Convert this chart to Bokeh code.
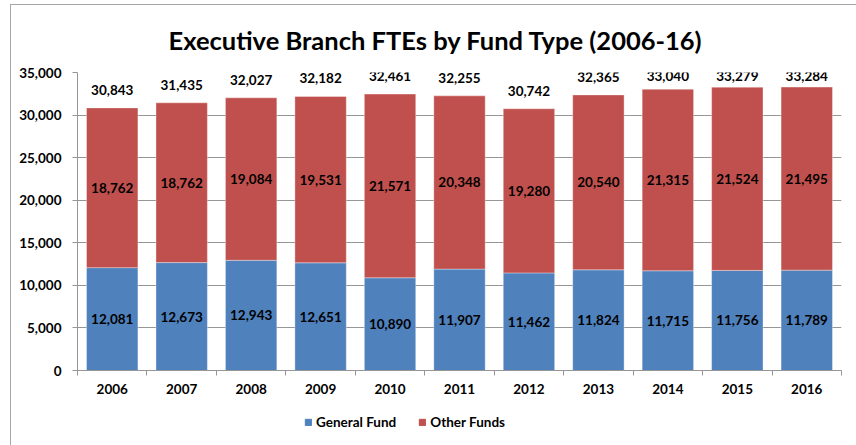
from bokeh.plotting import figure
from bokeh.layouts import column
from bokeh.models import (ColumnDataSource, Range1d, FixedTicker, SingleIntervalTicker,
                          NumeralTickFormatter, Legend, LegendItem)
from bokeh.core.properties import value
from bokeh.embed import file_html
from bokeh.resources import INLINE

years = ["2006", "2007", "2008", "2009", "2010", "2011", "2012", "2013", "2014", "2015", "2016"]
general_fund = [12081, 12673, 12943, 12651, 10890, 11907, 11462, 11824, 11715, 11756, 11789]
other_funds = [18762, 18762, 19084, 19531, 21571, 20348, 19280, 20540, 21315, 21524, 21495]
totals = [30843, 31435, 32027, 32182, 32461, 32255, 30742, 32365, 33040, 33279, 33284]
series_names = ["General Fund", "Other Funds"]

BLUE = "#4f81bd"
RED = "#c0504d"
GRAY = "#969696"
FONT = value("Lato")
Y_MAX = 35000

n = len(years)
idx = list(range(n))
fmt = lambda v: f"{v:,}"
source = ColumnDataSource(dict(
    x=idx,
    general=general_fund,
    other=other_funds,
    gen_mid=[g / 2 for g in general_fund],
    oth_mid=[g + o / 2 for g, o in zip(general_fund, other_funds)],
    tot_y=[min(t, 32430) for t in totals],
    gen_lbl=[fmt(v) for v in general_fund],
    oth_lbl=[fmt(v) for v in other_funds],
    tot_lbl=[fmt(v) for v in totals],
))

p = figure(x_range=Range1d(-0.5, n - 0.5), y_range=Range1d(0, Y_MAX),
           width=845, height=400, output_backend="svg", toolbar_location=None,
           min_border_left=66, min_border_right=15, min_border_top=65, min_border_bottom=35)
p.outline_line_color = None
p.background_fill_color = "white"
p.border_fill_color = "white"

renderers = p.vbar_stack(["general", "other"], x="x", width=0.74, color=[BLUE, RED],
                         line_color="white", line_alpha=0.35, line_width=1, source=source)

# y axis
p.yaxis.ticker = SingleIntervalTicker(interval=5000)
p.yaxis.formatter = NumeralTickFormatter(format="0,0")
p.yaxis.axis_line_color = GRAY
p.yaxis.major_tick_line_color = GRAY
p.yaxis.major_tick_out = 5
p.yaxis.major_tick_in = 0
p.yaxis.minor_tick_line_color = None
p.yaxis.major_label_standoff = 11
p.yaxis.major_label_text_font = "Lato"
p.yaxis.major_label_text_font_style = "bold"
p.yaxis.major_label_text_font_size = "13.5px"
p.yaxis.major_label_text_color = "black"

p.ygrid.ticker = SingleIntervalTicker(interval=5000)
p.ygrid.grid_line_color = GRAY
p.xgrid.grid_line_color = None

# x axis: labels at category centres, ticks at category boundaries
p.xaxis.ticker = FixedTicker(ticks=idx, minor_ticks=[i - 0.5 for i in range(n + 1)])
p.xaxis.major_label_overrides = {i: y for i, y in zip(idx, years)}
p.xaxis.axis_line_color = GRAY
p.xaxis.major_tick_line_color = None
p.xaxis.major_tick_out = 5
p.xaxis.major_tick_in = 0
p.xaxis.minor_tick_line_color = GRAY
p.xaxis.minor_tick_out = 5
p.xaxis.minor_tick_in = 0
p.xaxis.major_label_standoff = 8
p.xaxis.major_label_text_font = "Lato"
p.xaxis.major_label_text_font_style = "bold"
p.xaxis.major_label_text_font_size = "13.5px"
p.xaxis.major_label_text_color = "black"

# data labels
common = dict(text_font=FONT, text_font_style="bold", text_font_size=value("13.5px"),
              text_color="black", text_align="center", text_baseline="middle", source=source)
p.text(x="x", y="gen_mid", text="gen_lbl", **common)
p.text(x="x", y="oth_mid", text="oth_lbl", **common)
p.text(x="x", y="tot_y", text="tot_lbl", y_offset=-18, **common)

# title
p.title.text = "Executive Branch FTEs by Fund Type (2006-16)"
p.title.align = "left"
p.title.text_font = "Lato"
p.title.text_font_style = "bold"
p.title.text_font_size = "25.5px"
p.title.text_color = "black"
p.title.offset = 91
p.title.standoff = 35

# legend strip (separate figure so the legend can sit off-centre below the axis)
leg = figure(width=845, height=40, output_backend="svg", toolbar_location=None,
             x_axis_location=None, y_axis_location=None, min_border=0,
             x_range=Range1d(0, 1), y_range=Range1d(0, 1))
leg.outline_line_color = None
leg.xgrid.grid_line_color = None
leg.ygrid.grid_line_color = None
swatches = leg.vbar_stack(["general", "other"], x="x", width=0.74, color=[BLUE, RED], source=source)
for r in swatches:
    r.visible = False
legend = Legend(items=[LegendItem(label=series_names[i], renderers=[swatches[i]]) for i in range(2)],
                orientation="horizontal", location=(227, 15), glyph_width=8, glyph_height=8,
                label_standoff=4, spacing=22, padding=0, margin=0, border_line_color=None,
                background_fill_alpha=0, inactive_fill_alpha=0,
                label_text_font="Lato", label_text_font_style="bold",
                label_text_font_size="13.5px", label_text_color="black")
leg.add_layout(legend, "center")

layout = column(p, leg, spacing=0, margin=(4, 0, 0, 10),
                styles={"border-top": "1px solid #a6a6a6", "border-left": "1px solid #a6a6a6"})
open("out.html", "w").write(file_html(layout, INLINE))
